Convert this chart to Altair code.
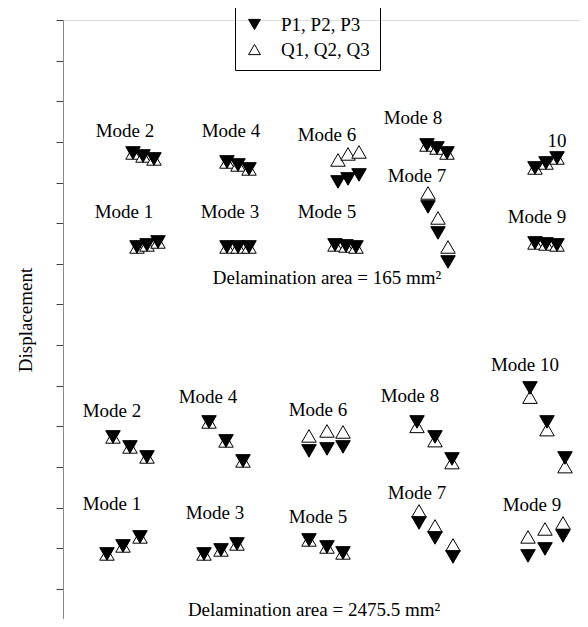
import altair as alt
import pandas as pd

# ---- point data: x position (arbitrary units), displacement value ----
series_names = ["P1, P2, P3", "Q1, Q2, Q3"]

# upper group (165 mm^2), modes 1..10, three points each
up_x = [74, 84, 95, 70, 80, 91, 164, 175, 186, 164, 175, 186, 272, 283, 293,
        275, 285, 296, 365, 375, 385, 364, 374, 384, 472, 483, 494, 472, 483, 494]
up_p = [8.415, 8.465, 8.538, 10.728, 10.654, 10.581, 8.415, 8.415, 8.415,
        10.507, 10.433, 10.335, 8.465, 8.44, 8.415, 10.015, 10.089, 10.187,
        9.400, 8.760, 8.046, 10.925, 10.851, 10.728, 8.514, 8.489, 8.465,
        10.359, 10.482, 10.605]
up_q = [8.415, 8.465, 8.538, 10.728, 10.654, 10.581, 8.415, 8.415, 8.415,
        10.507, 10.433, 10.335, 8.465, 8.44, 8.415, 10.556, 10.704, 10.753,
        9.744, 9.129, 8.415, 10.925, 10.851, 10.728, 8.514, 8.489, 8.465,
        10.359, 10.482, 10.605]

# lower group (2475.5 mm^2)
lo_x = [44, 60, 77, 50, 67, 84, 141, 158, 174, 146, 163, 180, 246, 264, 280,
        246, 264, 280, 356, 372, 390, 354, 372, 389, 465, 482, 500, 467, 484, 502]
lo_p = [0.861, 1.058, 1.280, 3.740, 3.494, 3.248, 0.861, 0.960, 1.107,
        4.109, 3.642, 3.150, 1.206, 1.033, 0.886, 3.396, 3.445, 3.494,
        1.624, 1.255, 0.787, 4.109, 3.740, 3.199, 0.812, 0.984, 1.304,
        4.946, 4.109, 3.223]
lo_q = [0.861, 1.058, 1.280, 3.740, 3.494, 3.248, 0.861, 0.960, 1.107,
        4.109, 3.642, 3.150, 1.206, 1.033, 0.886, 3.765, 3.888, 3.863,
        1.919, 1.550, 1.083, 4.000, 3.650, 3.110, 1.280, 1.476, 1.624,
        4.720, 3.920, 3.010]

# ---- annotation texts ----
label_text = ["Mode 1", "Mode 2", "Mode 3", "Mode 4", "Mode 5", "Mode 6",
              "Mode 7", "Mode 8", "Mode 9", "10",
              "Mode 1", "Mode 2", "Mode 3", "Mode 4", "Mode 5", "Mode 6",
              "Mode 7", "Mode 8", "Mode 9", "Mode 10",
              "Delamination area = 165 mm²", "Delamination area = 2475.5 mm²"]
label_x = [61, 62, 167, 168, 264, 264, 354, 350, 474, 494,
           49, 49, 152, 145, 255, 255, 354, 347, 469, 462,
           264, 251]
label_y = [9.277, 11.270, 9.277, 11.270, 9.277, 11.171, 10.162, 11.590, 9.154, 11.024,
           2.092, 4.380, 1.870, 4.724, 1.772, 4.404, 2.362, 4.749, 2.067, 5.512,
           7.653, -0.517]

ytick_values = list(range(0, 15))

# ---- build tables (Q first so that P is drawn on top) ----
rows = []
for xs, ys in ((up_x, up_q), (lo_x, lo_q)):
    for xv, yv in zip(xs, ys):
        rows.append({"x": xv, "y": yv, "series": series_names[1]})
for xs, ys in ((up_x, up_p), (lo_x, lo_p)):
    for xv, yv in zip(xs, ys):
        rows.append({"x": xv, "y": yv, "series": series_names[0]})
pts = pd.DataFrame(rows)
labels = pd.DataFrame({"text": label_text, "x": label_x, "y": label_y})

FONT = "Liberation Serif"
xscale = alt.Scale(domain=[0, 517], nice=False, zero=False)
yscale = alt.Scale(domain=[-0.74, 14], nice=False, zero=False)

legend = alt.Legend(title=None, orient="none", legendX=172, legendY=-15,
                    labelFont=FONT, labelFontSize=19, labelColor="black",
                    symbolSize=140, symbolStrokeWidth=1,
                    strokeColor="black", padding=10, rowPadding=5,
                    labelOffset=17, symbolOffset=0)

points = alt.Chart(pts).mark_point(size=210, filled=True, strokeWidth=1, opacity=1).encode(
    x=alt.X("x:Q", scale=xscale, axis=None),
    y=alt.Y("y:Q", scale=yscale,
            axis=alt.Axis(values=ytick_values, labels=False, grid=False,
                          domainColor="#888888", tickColor="#444444", tickSize=7,
                          title="Displacement", titleFont=FONT, titleFontSize=19,
                          titleFontWeight="normal", titleColor="black",
                          titlePadding=20)),
    shape=alt.Shape("series:N",
                    scale=alt.Scale(domain=series_names,
                                    range=["triangle-down", "triangle-up"]),
                    legend=legend),
    fill=alt.Fill("series:N",
                  scale=alt.Scale(domain=series_names, range=["black", "white"]),
                  legend=legend),
    stroke=alt.Stroke("series:N",
                      scale=alt.Scale(domain=series_names, range=["black", "black"]),
                      legend=legend),
)

texts = alt.Chart(labels).mark_text(font=FONT, fontSize=19, color="black",
                                     align="center", baseline="middle").encode(
    x=alt.X("x:Q", scale=xscale),
    y=alt.Y("y:Q", scale=yscale),
    text="text:N",
)

chart = alt.layer(points, texts).properties(
    width=517, height=599,
    autosize=alt.AutoSizeParams(type="none"),
    padding={"left": 55, "top": 12, "right": 0, "bottom": 0},
).configure_view(stroke=None).configure(background="white")

chart.save("out.html", embed_options={"renderer": "svg", "actions": False})
